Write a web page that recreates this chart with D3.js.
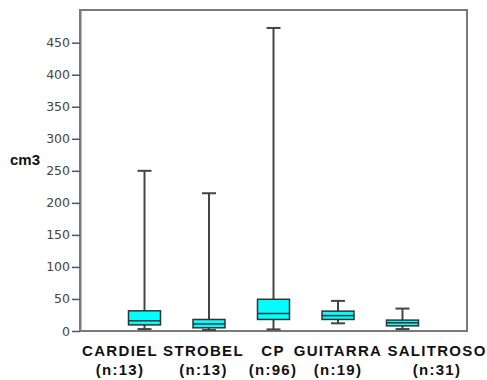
<!DOCTYPE html>
<html><head><meta charset="utf-8">
<script src="https://cdn.jsdelivr.net/npm/d3@7"></script>
<style>body{margin:0;background:#fff}svg{display:block}</style>
</head><body>
<script>
const categories = ["CARDIEL","STROBEL","CP","GUITARRA","SALITROSO"];
const counts = ["(n:13)","(n:13)","(n:96)","(n:19)","(n:31)"];
const whiskerLow = [3, 1.5, 2.5, 12, 3];
const q1 = [9.5, 5, 18, 18, 8];
const median = [16, 11, 27.5, 24, 13];
const q3 = [31.5, 18, 49.5, 31, 17];
const whiskerHigh = [250, 215, 473, 47, 35];
const yTicks = [0,50,100,150,200,250,300,350,400,450];
const yLabel = "cm3";
// label layout nudges (px) to avoid overlapping wide labels
const labelNudge = [-24.5, -5.5, -0.5, 0, 34.5];

const W = 487, H = 380;
const m = {left:80, right:20, top:10, bottom:49};
const svg = d3.select("body").append("svg").attr("width",W).attr("height",H);

const x = d3.scalePoint().domain(categories).range([m.left, W-m.right]).padding(1);
const y = d3.scaleLinear().domain([0, 501]).range([H-m.bottom, m.top]);

// frame
svg.append("rect").attr("x",m.left).attr("y",m.top)
  .attr("width",W-m.right-m.left).attr("height",H-m.bottom-m.top)
  .attr("fill","none").attr("stroke","#7a7a7a").attr("stroke-width",2);

// y axis
const ya = svg.append("g").attr("transform",`translate(${m.left},0)`)
  .call(d3.axisLeft(y).tickValues(yTicks).tickSize(8).tickSizeOuter(0).tickPadding(2));
ya.select(".domain").attr("stroke","#7a7a7a").attr("stroke-width",2);
ya.selectAll(".tick line").attr("stroke","#555").attr("stroke-width",1.5);
ya.selectAll(".tick text").attr("fill","#444").style("font-family","'DejaVu Sans', Verdana, sans-serif").style("font-size","12.5px");

svg.append("text").attr("x",10).attr("y",165).text(yLabel)
  .style("font-family","'Liberation Sans', Arial, sans-serif").style("font-weight","bold")
  .style("font-size","15px").attr("fill","#111");

const data = categories.map((c,i)=>({c, lo:whiskerLow[i], q1:q1[i], med:median[i], q3:q3[i], hi:whiskerHigh[i], n:counts[i], nudge:labelNudge[i]}));
const bw = 32, cap = 14;
const g = svg.append("g").selectAll("g").data(data).join("g");
g.append("line").attr("x1",d=>x(d.c)).attr("x2",d=>x(d.c))
  .attr("y1",d=>y(d.hi)).attr("y2",d=>y(d.lo)).attr("stroke","#444").attr("stroke-width",2);
g.append("line").attr("x1",d=>x(d.c)-cap/2).attr("x2",d=>x(d.c)+cap/2)
  .attr("y1",d=>y(d.hi)).attr("y2",d=>y(d.hi)).attr("stroke","#444").attr("stroke-width",2);
g.append("line").attr("x1",d=>x(d.c)-cap/2).attr("x2",d=>x(d.c)+cap/2)
  .attr("y1",d=>y(d.lo)).attr("y2",d=>y(d.lo)).attr("stroke","#444").attr("stroke-width",2);
g.append("rect").attr("x",d=>x(d.c)-bw/2).attr("width",bw)
  .attr("y",d=>y(d.q3)).attr("height",d=>y(d.q1)-y(d.q3))
  .attr("fill","#00ffff").attr("stroke","#333").attr("stroke-width",1.5);
g.append("line").attr("x1",d=>x(d.c)-bw/2).attr("x2",d=>x(d.c)+bw/2)
  .attr("y1",d=>y(d.med)).attr("y2",d=>y(d.med)).attr("stroke","#333").attr("stroke-width",1.5);

// category labels
const lab = svg.append("g").selectAll("text").data(data).join("text")
  .attr("text-anchor","middle")
  .style("font-family","'Liberation Sans', Arial, sans-serif").style("font-weight","bold")
  .style("font-size","15px").style("letter-spacing","1.3px").attr("fill","#111");
lab.append("tspan").attr("x",d=>x(d.c)+d.nudge).attr("y",356).text(d=>d.c);
lab.append("tspan").attr("x",d=>x(d.c)+d.nudge).attr("y",375).text(d=>d.n);
</script>
</body></html>
